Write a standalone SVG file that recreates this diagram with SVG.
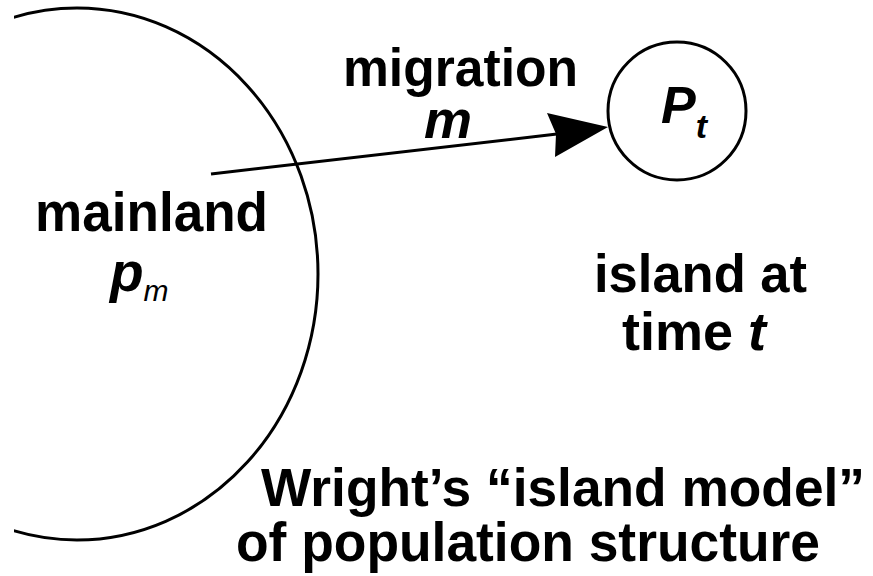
<svg xmlns="http://www.w3.org/2000/svg" width="873" height="576" viewBox="0 0 873 576">
<style>
.t{font-family:"Liberation Sans",Arial,sans-serif;font-weight:bold;fill:#000}
.i{font-style:italic}
.shape{fill:none;stroke:#000;stroke-width:3}
</style>
<defs>
<clipPath id="clipMain"><rect x="14" y="0" width="859" height="576"/></clipPath>
</defs>
<rect width="873" height="576" fill="#fff"/>
<g id="mainland">
<ellipse class="shape" cx="77" cy="274" rx="241" ry="266" clip-path="url(#clipMain)"/>
<text class="t" x="35" y="231" font-size="55" textLength="233" lengthAdjust="spacingAndGlyphs">mainland</text>
<text class="t i" x="110" y="291" font-size="55">p<tspan font-size="30" font-weight="normal" dy="10">m</tspan></text>
</g>
<g id="island">
<circle class="shape" cx="677" cy="111" r="69"/>
<text class="t i" x="661" y="123" font-size="52">P<tspan font-size="34" dy="15">t</tspan></text>
<text class="t" x="594" y="292" font-size="54" textLength="213" lengthAdjust="spacingAndGlyphs">island at</text>
<text class="t" x="622" y="350" font-size="54">time <tspan class="i">t</tspan></text>
</g>
<g id="connectors">
<line class="shape" x1="211" y1="174" x2="557" y2="134"/>
<polygon points="547,113 608,127 555,157 556,134" fill="#000"/>
<text class="t" x="343" y="86" font-size="54" textLength="235" lengthAdjust="spacingAndGlyphs">migration</text>
<text class="t i" x="424" y="138" font-size="54">m</text>
</g>
<g id="caption">
<text class="t" x="261" y="506" font-size="53.5" textLength="604" lengthAdjust="spacingAndGlyphs">Wright’s “island model”</text>
<text class="t" x="236" y="561" font-size="55" textLength="584" lengthAdjust="spacingAndGlyphs">of population structure</text>
</g>
</svg>
